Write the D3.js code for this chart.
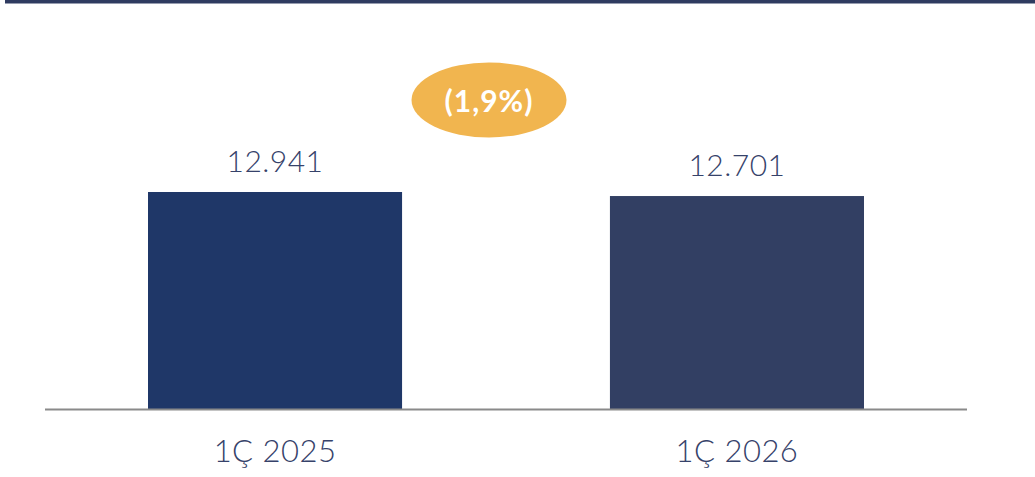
<!DOCTYPE html>
<html lang="tr">
<head>
    <meta charset="UTF-8">
    <title>Chart</title>
    <style>
        body {
            margin: 0;
            background: #fff;
        }
        svg {
            display: block;
            font-family: Lato, 'Noto Sans', sans-serif;
        }
    </style>
</head>
<body>
    <div id="chart"></div>

    <script src="https://d3js.org/d3.v7.min.js"></script>
    <script>
        const categories = ['1Ç 2025', '1Ç 2026']
        const values = [12941, 12701]
        const valueLabels = ['12.941', '12.701']
        const changeLabel = '(1,9%)'

        const width = 1035
        const height = 477
        const barColors = ['#1f3768', '#323f63']
        const fontColor = '#36426a'

        const svg = d3.select('#chart')
            .append('svg')
            .attr('width', width)
            .attr('height', height)

        // top rule
        svg.append('rect')
            .attr('x', 5)
            .attr('y', 0)
            .attr('width', width - 5)
            .attr('height', 3.5)
            .attr('fill', '#2f3b60')

        const x = d3.scaleBand()
            .domain(categories)
            .range([45, 967])
            .paddingInner(0.45)
            .paddingOuter(0.223)

        const y = d3.scaleLinear()
            .domain([0, values[0]])
            .range([409.5, 192])

        svg.append('g')
            .selectAll('rect')
            .data(categories)
            .join('rect')
            .attr('x', d => x(d))
            .attr('width', x.bandwidth())
            .attr('y', (d, i) => y(values[i]))
            .attr('height', (d, i) => y(0) - y(values[i]))
            .attr('fill', (d, i) => barColors[i])

        // baseline
        svg.append('line')
            .attr('x1', 45)
            .attr('x2', 967)
            .attr('y1', y(0))
            .attr('y2', y(0))
            .attr('stroke', '#8a8a8a')
            .attr('stroke-width', 2)

        // value labels
        svg.append('g')
            .selectAll('text')
            .data(categories)
            .join('text')
            .attr('x', d => x(d) + x.bandwidth() / 2)
            .attr('y', (d, i) => y(values[i]) - 20)
            .attr('text-anchor', 'middle')
            .attr('fill', fontColor)
            .style('font-size', '30px')
            .style('font-weight', 300)
            .style('letter-spacing', '0.5px')
            .text((d, i) => valueLabels[i])

        // category labels
        svg.append('g')
            .selectAll('text')
            .data(categories)
            .join('text')
            .attr('x', d => x(d) + x.bandwidth() / 2)
            .attr('y', 462)
            .attr('text-anchor', 'middle')
            .attr('fill', fontColor)
            .style('font-size', '31px')
            .style('font-weight', 300)
            .style('letter-spacing', '0.5px')
            .text(d => d)

        // change bubble
        svg.append('ellipse')
            .attr('cx', 489)
            .attr('cy', 100)
            .attr('rx', 77.5)
            .attr('ry', 37.5)
            .attr('fill', '#f1b54f')

        svg.append('text')
            .attr('x', 489)
            .attr('y', 112)
            .attr('text-anchor', 'middle')
            .attr('fill', '#fff')
            .style('font-size', '30px')
            .style('font-weight', 700)
            .style('letter-spacing', '1px')
            .text(changeLabel)
    </script>
</body>
</html>
